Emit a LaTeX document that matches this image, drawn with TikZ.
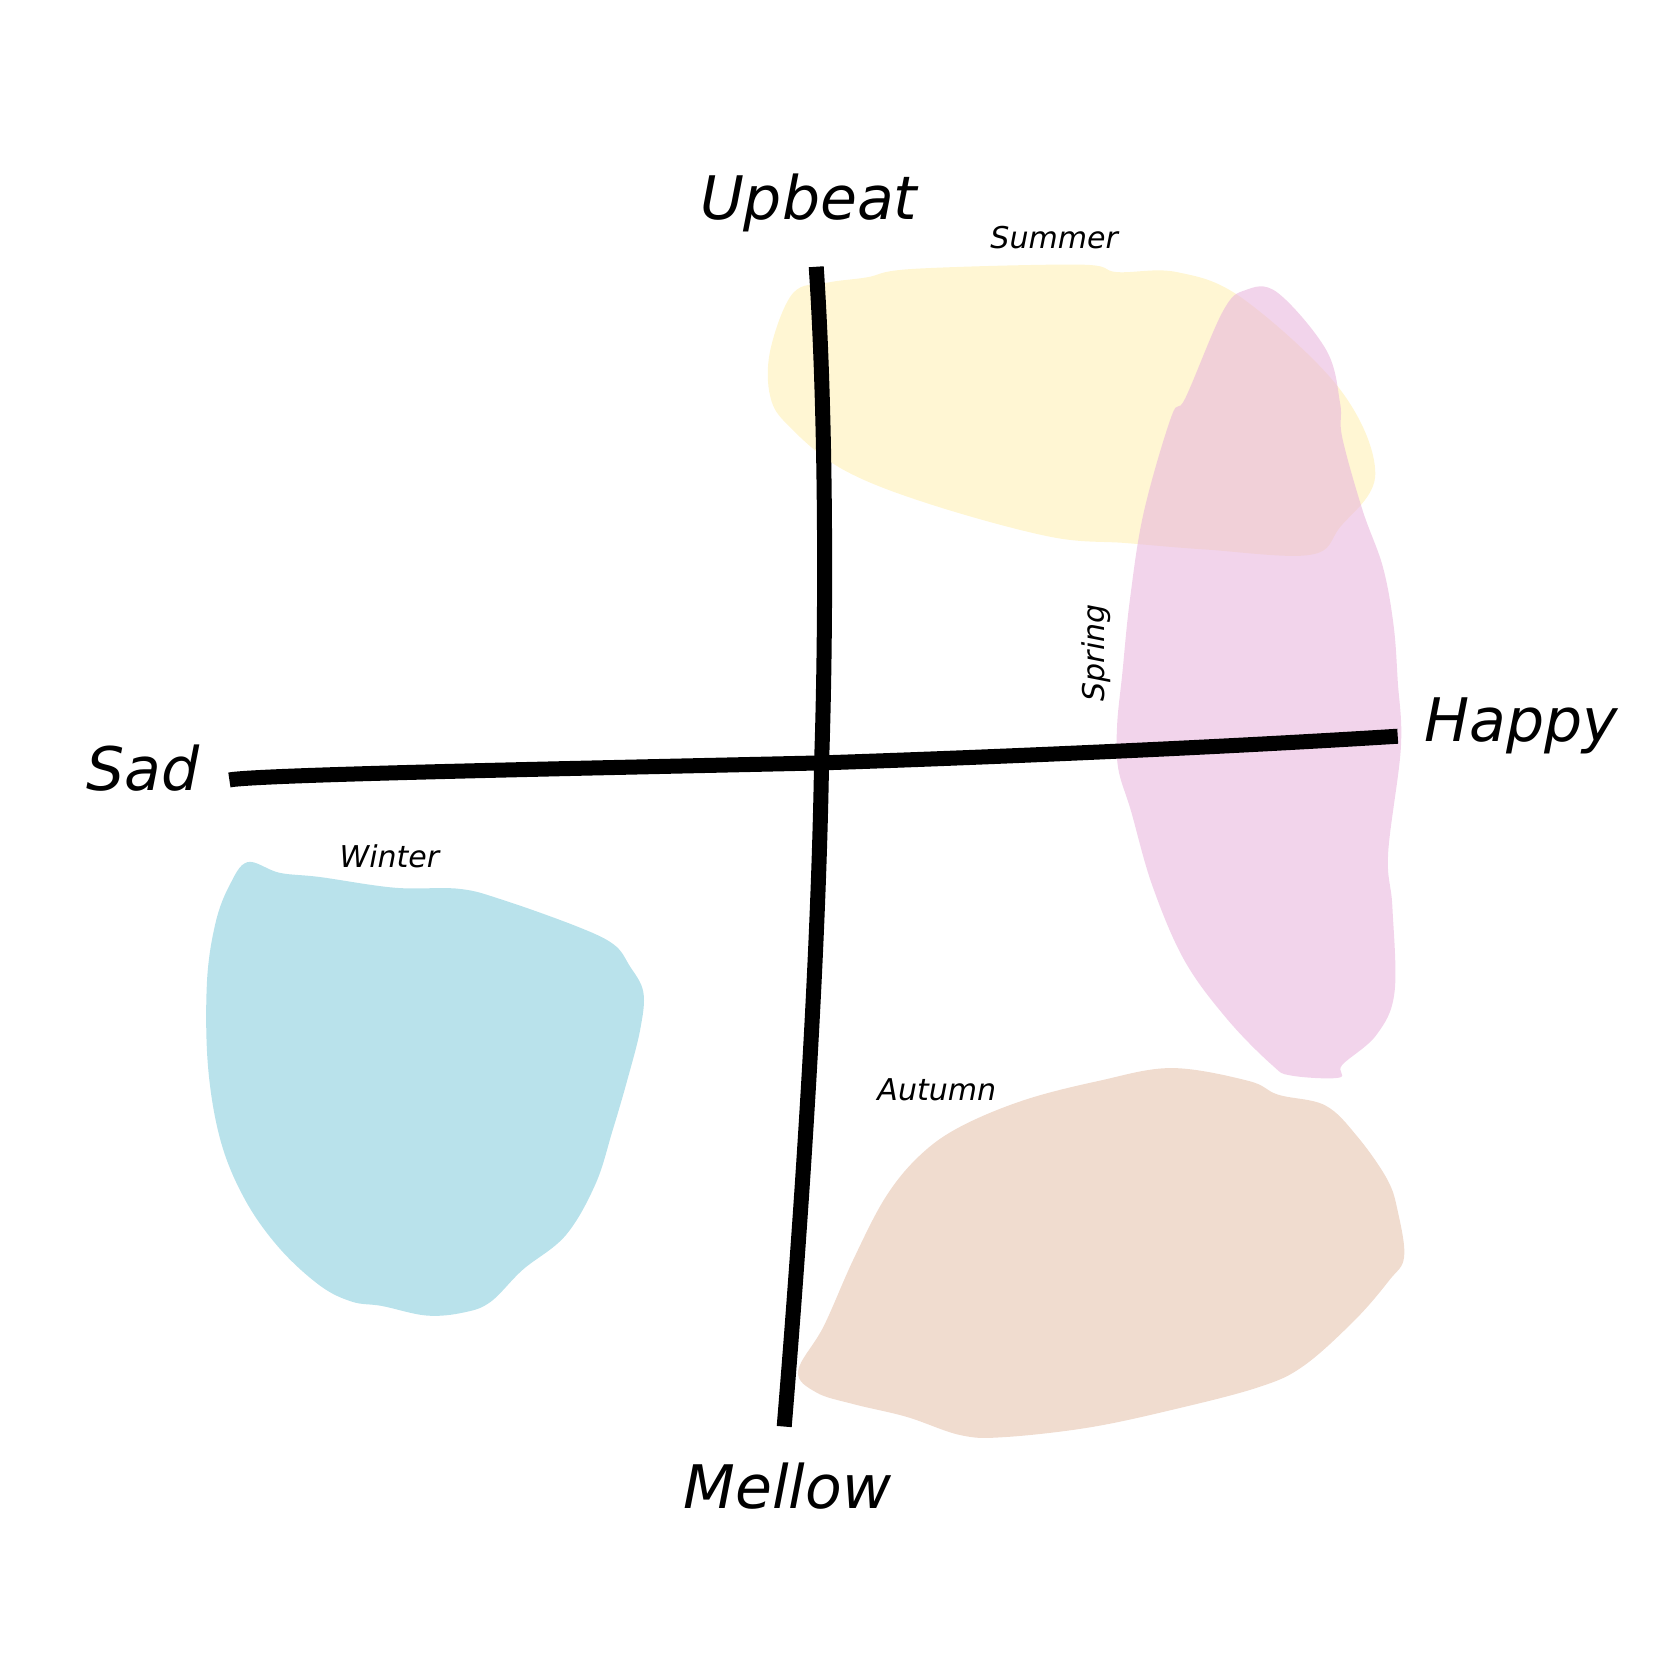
\documentclass[tikz,border=0pt]{standalone}
\usepackage{fontspec}
\setmainfont{DejaVu Sans}
\usepackage{tikz}
\usetikzlibrary{positioning}
\newcommand\AxisWidth{4pt}
\definecolor{summerfill}{RGB}{255,246,211}
\definecolor{springfill}{RGB}{232,180,220}
\definecolor{autumnfill}{RGB}{240,220,207}
\definecolor{winterfill}{RGB}{185,226,235}
\tikzset{
  axis/.style={
    line width = \AxisWidth,
    line cap = butt,
    black
  },
  pole/.style={
    font = \fontsize{16}{18}\selectfont\itshape,
    inner sep = 0pt
  },
  season/.style={
    font = \fontsize{8}{10}\selectfont\itshape,
    inner sep = 0pt
  },
  blob/.style={
    draw = none,
    smooth cycle,
    tension = 0.6
  }
}

\begin{document}
\begin{tikzpicture}[x=0.01cm,y=-0.01cm]
    \useasboundingbox (0,0) rectangle (1568,1568);

    % seasons
    \fill[winterfill] plot[blob] coordinates {(232,808) (262,818) (300,822) (370,832) (430,833) (470,843) (540,868) (575,885) (590,905) (603,930) (600,965) (588,1012) (574,1060) (558,1110) (530,1158) (490,1190) (460,1220) (435,1230) (400,1233) (358,1224) (330,1220) (300,1205) (262,1170) (230,1125) (207,1070) (195,1000) (194,920) (202,865) (215,830)};
    \fill[autumnfill] plot[blob] coordinates {(748,1285) (772,1243) (800,1180) (830,1122) (862,1083) (900,1056) (960,1031) (1030,1013) (1098,1001) (1170,1013) (1198,1026) (1242,1036) (1272,1065) (1300,1105) (1310,1135) (1316,1178) (1302,1200) (1270,1237) (1222,1280) (1180,1300) (1100,1321) (1020,1338) (940,1347) (900,1345) (850,1328) (800,1316) (765,1305)};
    \fill[summerfill] plot[blob] coordinates {(775,265) (812,260) (856,252) (1012,248) (1047,255) (1103,255) (1165,280) (1256,365) (1289,444) (1256,494) (1228,520) (1130,515) (1056,509) (984,503) (870,472) (790,440) (740,400) (722,372) (722,328) (743,275)};
    \fill[springfill, fill opacity=0.57] plot[blob] coordinates {(1146,292) (1167,272) (1197,274) (1243,328) (1256,378) (1258,410) (1277,478) (1296,531) (1306,585) (1310,638) (1313,700) (1301,800) (1305,850) (1307,930) (1290,970) (1258,998) (1255,1010) (1210,1008) (1192,998) (1150,955) (1110,900) (1080,830) (1060,760) (1048,720) (1047,680) (1052,630) (1059,562) (1072,480) (1098,390) (1111,373)};

    % axes ends
    \coordinate (upEnd) at (765,250);
    \coordinate (downEnd) at (735,1337);
    \coordinate (leftEnd) at (215,731);
    \coordinate (rightEnd) at (1310,690);
    \coordinate (origin) at (770,715);

    \draw[axis] (upEnd) .. controls (775,400) and (774,600) .. (origin)
        .. controls (767,900) and (752,1130) .. (downEnd);
    \draw[axis] (leftEnd) .. controls (240,726) and (550,720) .. (origin)
        .. controls (950,709) and (1150,700) .. (rightEnd);

    % labels
    \node[pole] (upbeat) at (758,190) {Upbeat};
    \node[pole] (mellow) at (738,1393) {Mellow};
    \node[pole] (sad) at (134,720) {Sad};
    \node[pole] (happy) at (1426,680) {Happy};

    \node[season] (summer) at (988,223) {Summer};
    \node[season] (winter) at (365,803) {Winter};
    \node[season] (autumn) at (878,1021) {Autumn};
    \node[season, rotate=90] (spring) at (1027,612) {Spring};
\end{tikzpicture}
\end{document}
